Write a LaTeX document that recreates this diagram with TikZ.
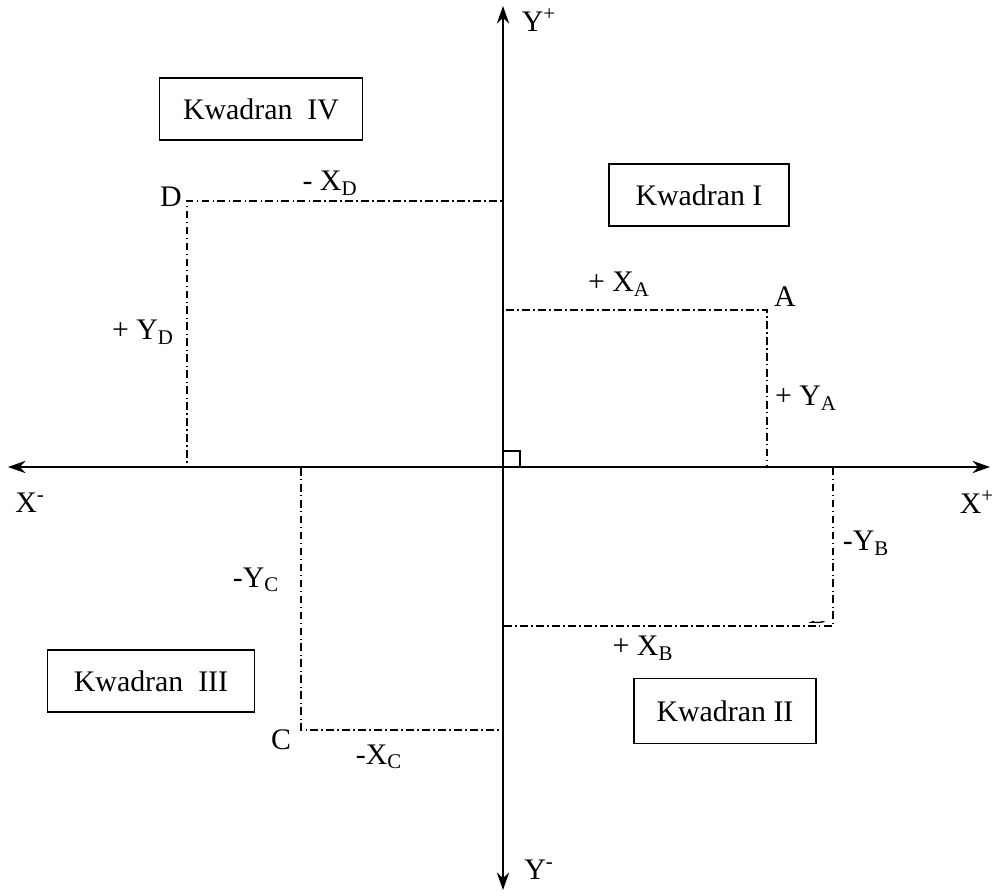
\documentclass[tikz,border=0pt]{standalone}
\usepackage{fontspec}
\setmainfont{Liberation Serif}
\usetikzlibrary{arrows.meta}

\tikzset{
  kotak/.style={draw,line width=0.7pt,minimum height=1.24cm,font=\fontsize{17}{20}\selectfont},
  garis/.style={line width=0.6pt,dash pattern=on 4.5pt off 1.8pt on 1pt off 1.8pt},
  lbl/.style={font=\fontsize{17}{20}\selectfont,inner sep=1pt},
  panah/.style={{Stealth[length=10pt,width=7pt]}-{Stealth[length=10pt,width=7pt]},line width=1.1pt},
}

\begin{document}
\begin{tikzpicture}[x=0.02cm,y=-0.02cm]
        \useasboundingbox (0,0) rectangle (995,896);
        % sumbu
        \coordinate (xkiri) at (8,467);
        \coordinate (xkanan) at (990,467);
        \coordinate (yatas) at (503,6);
        \coordinate (ybawah) at (503,890);
        \coordinate (o) at (503,467);
        \draw[panah] (xkiri) -- (xkanan);
        \draw[panah] (yatas) -- (ybawah);
        \node[lbl] (ypos) at (539,20) {Y\textsuperscript{+}};
        \node[lbl] (yneg) at (539,870) {Y\textsuperscript{-}};
        \node[lbl] (xneg) at (30,503) {X\textsuperscript{-}};
        \node[lbl] (xpos) at (977,502) {X\textsuperscript{+}};
        % siku
        \draw[line width=0.6pt] (o) rectangle (520,451);

        % titik
        \coordinate (a) at (767,310);
        \coordinate (b) at (833,626);
        \coordinate (c) at (301,730);
        \coordinate (d) at (187,201);
        \draw[garis] (o) rectangle (a);
        \draw[garis] (o) rectangle (b);
        \draw[garis] (o) rectangle (c);
        \draw[garis] (o) rectangle (d);

        \node[lbl] (na) at (785,297) {A};
        \begin{scope}
          \clip (795,621) rectangle (830,640);
          \node[lbl] (nb) at (818,614) {B};
        \end{scope}
        \node[lbl] (nc) at (281,740) {C};
        \node[lbl] (nd) at (171,197) {D};

        \node[lbl] (xa) at (619,284) {+ X\textsubscript{A}};
        \node[lbl] (ya) at (806,398) {+ Y\textsubscript{A}};
        \node[lbl] (xb) at (643,648) {+ X\textsubscript{B}};
        \node[lbl] (yb) at (866,543) {-Y\textsubscript{B}};
        \node[lbl] (xc) at (379,757) {-X\textsubscript{C}};
        \node[lbl] (yc) at (256,580) {-Y\textsubscript{C}};
        \node[lbl] (xd) at (330,183) {- X\textsubscript{D}};
        \node[lbl] (yd) at (143,332) {+ Y\textsubscript{D}};

        % kuadran
        \node[kotak,minimum width=4.06cm] (k4) at (261,109) {Kwadran\enspace IV};
        \node[kotak,minimum width=3.6cm] (k1) at (699,195) {Kwadran I};
        \node[kotak,minimum width=4.14cm] (k3) at (151,681) {Kwadran\enspace III};
        \node[kotak,minimum width=3.64cm,minimum height=1.3cm] (k2) at (725,711) {Kwadran II};
    \end{tikzpicture}
\end{document}
